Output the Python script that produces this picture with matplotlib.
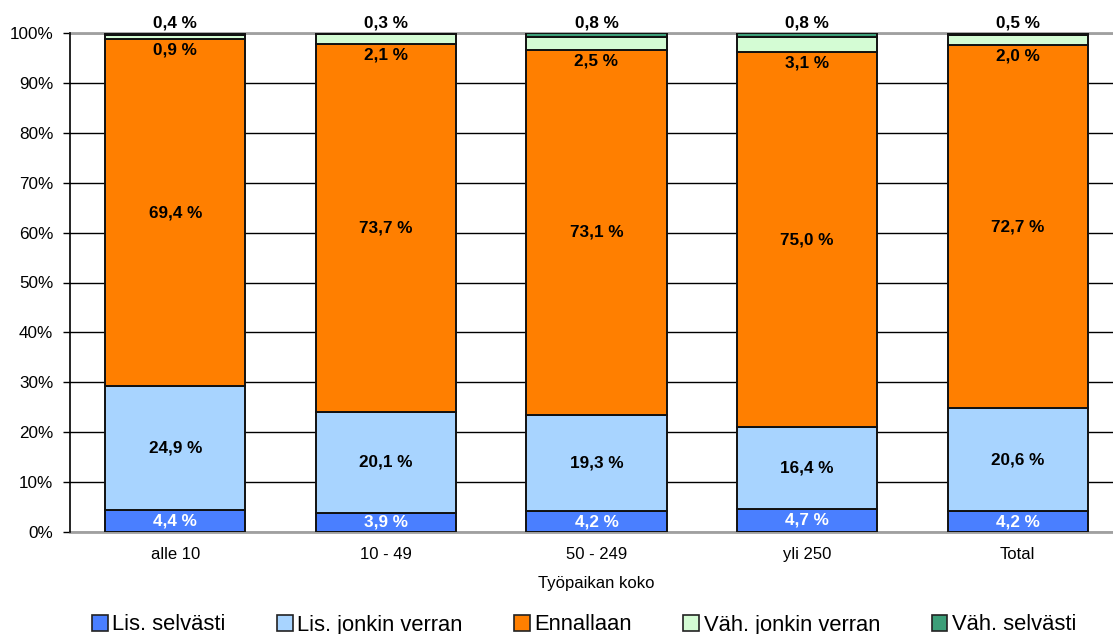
import matplotlib
matplotlib.use("Agg")
import matplotlib.pyplot as plt
from matplotlib.patches import Patch
import numpy as np

plt.rcParams['font.family'] = ['Liberation Sans', 'DejaVu Sans']

categories = ["alle 10", "10 - 49", "50 - 249", "yli 250", "Total"]
series_names = ["Lis. selvästi", "Lis. jonkin verran", "Ennallaan",
                "Väh. jonkin verran", "Väh. selvästi"]
lis_selvasti = [4.4, 3.9, 4.2, 4.7, 4.2]
lis_jonkin = [24.9, 20.1, 19.3, 16.4, 20.6]
ennallaan = [69.4, 73.7, 73.1, 75.0, 72.7]
vah_jonkin = [0.9, 2.1, 2.5, 3.1, 2.0]
vah_selvasti = [0.4, 0.3, 0.8, 0.8, 0.5]
y_ticks = [0, 10, 20, 30, 40, 50, 60, 70, 80, 90, 100]

series = [lis_selvasti, lis_jonkin, ennallaan, vah_jonkin, vah_selvasti]
colors = ["#4A7FFF", "#A8D4FF", "#FF7F00", "#D4FCD4", "#3C9E78"]

W, H = 1113, 634
fig = plt.figure(figsize=(W / 100, H / 100), dpi=100)
ax = fig.add_axes([70 / W, (H - 532) / H, (1123 - 70) / W, (532 - 33) / H])

x = np.arange(len(categories))
bottom = np.zeros(len(categories))
bottoms = []
for vals, col in zip(series, colors):
    vals = np.array(vals)
    ax.bar(x, vals, bottom=bottom, width=0.665, color=col,
           edgecolor="#111111", linewidth=1.4, zorder=3)
    bottoms.append(bottom.copy())
    bottom = bottom + vals


def fmt(v):
    return f"{v:.1f}".replace(".", ",") + " %"


lab_kw = dict(ha="center", va="center", fontsize=12.3, fontweight="bold", zorder=5)
for i in range(len(categories)):
    # large segments: centred labels
    for k, tc in ((0, "white"), (1, "black"), (2, "black")):
        v = series[k][i]
        ax.text(x[i], bottoms[k][i] + v / 2, fmt(v), color=tc, **lab_kw)
    # thin segments: labels set just below / above
    ax.annotate(fmt(series[3][i]), xy=(x[i], bottoms[3][i]), xytext=(0, -11),
                textcoords="offset pixels", color="black", **lab_kw)
    ax.annotate(fmt(series[4][i]), xy=(x[i], bottom[i]), xytext=(0, 10),
                textcoords="offset pixels", color="black", **lab_kw)

ax.set_xlim(-0.5, len(categories) - 0.5)
ax.set_ylim(0, 100)
ax.set_yticks(y_ticks)
ax.set_yticklabels([f"{t}%" for t in y_ticks])
ax.set_xticks(x)
ax.set_xticklabels(categories)
ax.tick_params(axis="y", length=5, width=1, color="black", pad=7, labelsize=12.3)
ax.tick_params(axis="x", length=0, pad=11, labelsize=12)
ax.set_xlabel("Työpaikan koko", fontsize=12, labelpad=10)

ax.yaxis.grid(True, color="black", linewidth=1.0)
ax.set_axisbelow(True)
ax.spines["left"].set_color("black")
ax.spines["left"].set_linewidth(1.2)
for s in ("top", "bottom", "right"):
    ax.spines[s].set_color("#A0A0A0")
    ax.spines[s].set_linewidth(2.0)
ax.spines["left"].set_zorder(4)

handles = [Patch(facecolor=c, edgecolor="#222222", linewidth=1.2) for c in colors]
fig.legend(handles, series_names, loc="center",
           bbox_to_anchor=(584 / W, 1 - 625 / H), ncol=5, frameon=False,
           fontsize=15.8, handlelength=0.72, handleheight=0.72,
           handletextpad=0.2, columnspacing=2.35, borderpad=0, borderaxespad=0)

fig.savefig("out.png", dpi=100)
